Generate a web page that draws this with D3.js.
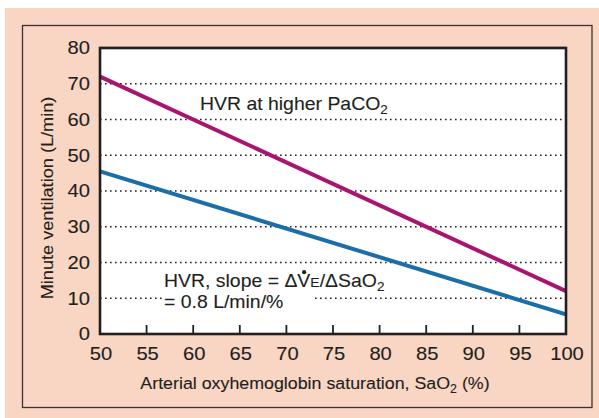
<!DOCTYPE html>
<html><head><meta charset="utf-8">
<script src="https://cdn.jsdelivr.net/npm/d3@7"></script>
<style>html,body{margin:0;padding:0;background:#fff;}svg{display:block;}</style>
</head><body>
<script>
// ---- data ----
const saO2 = [50, 100];
const hvrHigherPaCO2 = [72, 12];
const hvrNormal = [45.5, 5.5];
const xTickValues = [50, 55, 60, 65, 70, 75, 80, 85, 90, 95, 100];
const yTickValues = [0, 10, 20, 30, 40, 50, 60, 70, 80];
const gridValues = [10, 20, 30, 40, 50, 60, 70];
const xLabel = "Arterial oxyhemoglobin saturation, SaO";
const yLabel = "Minute ventilation (L/min)";

const W = 599, H = 418;
const FONT = "'Liberation Sans', Arial, Helvetica, sans-serif";
const svg = d3.select("body").append("svg").attr("width", W).attr("height", H);

svg.append("rect").attr("x", 0).attr("y", 0).attr("width", W).attr("height", H).attr("fill", "#fff");
svg.append("rect").attr("x", 5).attr("y", 8).attr("width", W - 5).attr("height", H - 8).attr("fill", "#f8d6c3");
svg.append("rect").attr("x", 22.5).attr("y", 25.5).attr("width", 569.5).attr("height", 382)
  .attr("fill", "none").attr("stroke", "#3a3330").attr("stroke-width", 1.3);

const x = d3.scaleLinear().domain([50, 100]).range([100, 566]);
const y = d3.scaleLinear().domain([0, 80]).range([334, 48]);

// plot area
svg.append("rect").attr("x", x(50)).attr("y", y(80) - 1.5).attr("width", x(100) - x(50)).attr("height", 1.5)
  .attr("fill", "#b7a59a");
svg.append("rect").attr("x", x(50)).attr("y", y(80)).attr("width", x(100) - x(50)).attr("height", y(0) - y(80))
  .attr("fill", "#fff");

// gridlines
svg.append("g").selectAll("line").data(gridValues).join("line")
  .attr("x1", x(50)).attr("x2", x(100)).attr("y1", d => y(d)).attr("y2", d => y(d))
  .attr("stroke", "#222").attr("stroke-width", 1.6).attr("stroke-dasharray", "1.6,3.4");

// white box behind second annotation line
svg.append("rect").attr("x", 163).attr("y", y(10) - 6).attr("width", 150).attr("height", 14).attr("fill", "#fff");

// lines
const line = d3.line().x(d => x(d[0])).y(d => y(d[1]));
svg.append("path").datum(saO2.map((s, i) => [s, hvrHigherPaCO2[i]])).attr("d", line)
  .attr("fill", "none").attr("stroke", "#a8146f").attr("stroke-width", 4);
svg.append("path").datum(saO2.map((s, i) => [s, hvrNormal[i]])).attr("d", line)
  .attr("fill", "none").attr("stroke", "#1b6ea8").attr("stroke-width", 4);

// x ticks (inside)
svg.append("g").selectAll("line").data(xTickValues.slice(1, -1)).join("line")
  .attr("x1", d => x(d)).attr("x2", d => x(d)).attr("y1", y(0)).attr("y2", y(0) - 9)
  .attr("stroke", "#222").attr("stroke-width", 1.8);

// frame of plot
svg.append("rect").attr("x", x(50)).attr("y", y(80)).attr("width", x(100) - x(50)).attr("height", y(0) - y(80))
  .attr("fill", "none").attr("stroke", "#231f20").attr("stroke-width", 2.6);

// text helper with horizontal stretch
function txt(px, py, opts) {
  const g = svg.append("g").attr("transform",
    `translate(${px},${py})` + (opts.rotate ? ` rotate(${opts.rotate})` : "") + ` scale(${opts.sx || 1},1)`);
  const t = g.append("text").attr("x", 0).attr("y", 0)
    .attr("font-family", FONT).attr("font-size", opts.size || 17).attr("fill", "#231f20")
    .attr("stroke", "#231f20").attr("stroke-width", 0.12)
    .attr("text-anchor", opts.anchor || "start");
  if (opts.dy) t.attr("dy", opts.dy);
  return {g, t};
}

// tick labels
xTickValues.forEach(v => {
  txt(x(v) + 1, 359.5, {anchor: "middle", sx: 1.12, size: 18}).t.text(v);
});
yTickValues.forEach(v => {
  txt(90, y(v), {anchor: "end", sx: 1.12, size: 18, dy: "0.35em"}).t.text(v);
});

// axis labels
{
  const {t} = txt(315, 389, {anchor: "middle", sx: 1.03, size: 17.3});
  t.append("tspan").text(xLabel);
  t.append("tspan").attr("font-size", 12).attr("dy", 4).text("2");
  t.append("tspan").attr("dy", -4).text(" (%)");
}
txt(53, 198, {anchor: "middle", rotate: -90, sx: 1.05, size: 17.3}).t.text(yLabel);

// annotations
{
  const {t} = txt(200, 110, {sx: 1.08, size: 18});
  t.append("tspan").text("HVR at higher PaCO");
  t.append("tspan").attr("font-size", 12.5).attr("dy", 4).text("2");
}
{
  const {g, t} = txt(164, 287, {sx: 1.08, size: 18});
  t.append("tspan").text("HVR, slope = Δ");
  const v = t.append("tspan").text("V");
  t.append("tspan").attr("font-size", 13).text("E");
  t.append("tspan").text("/ΔSaO");
  t.append("tspan").attr("font-size", 12.5).attr("dy", 4).text("2");
  const bb = v.node().getBBox();
  g.append("ellipse").attr("cx", bb.x + bb.width / 2).attr("cy", bb.y + 1.5)
    .attr("rx", 2.1 / 1.08).attr("ry", 2.1).attr("fill", "#231f20");
}
txt(164, 308, {sx: 1.08, size: 18}).t.text("= 0.8 L/min/%");
</script>
</body></html>
